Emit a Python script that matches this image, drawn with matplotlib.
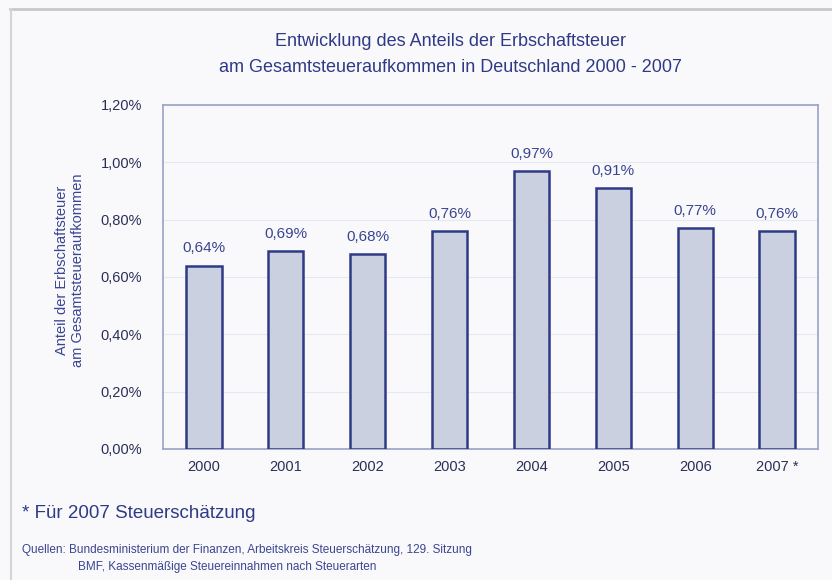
import matplotlib.pyplot as plt
from matplotlib.lines import Line2D

# Daten
jahre = ['2000', '2001', '2002', '2003', '2004', '2005', '2006', '2007 *']
anteile = [0.64, 0.69, 0.68, 0.76, 0.97, 0.91, 0.77, 0.76]
y_ticks = [0.0, 0.2, 0.4, 0.6, 0.8, 1.0, 1.2]

plt.rcParams['font.family'] = ['Liberation Sans', 'DejaVu Sans']

navy = '#2f3a86'
text_farbe = '#3a4590'

fig = plt.figure(figsize=(8.32, 5.8), dpi=100, facecolor='#f9f9fc')
ax = fig.add_axes([163 / 832, 1 - 449 / 580, 655 / 832, 344 / 580])
ax.set_facecolor('#f9f9fc')

x = range(len(jahre))
ax.bar(x, anteile, width=0.43, color='#cbd0e1', edgecolor=navy, linewidth=1.8, zorder=3)
for xi, v in zip(x, anteile):
    ax.text(xi, v + 0.035, f'{v:.2f}%'.replace('.', ','), ha='center', va='bottom',
            fontsize=11, color=text_farbe)

ax.set_xlim(-0.5, len(jahre) - 0.5)
ax.set_ylim(0, 1.2)
ax.set_yticks(y_ticks)
ax.set_yticklabels([f'{t:.2f}%'.replace('.', ',') for t in y_ticks])
ax.set_xticks(list(x))
ax.set_xticklabels(jahre)
ax.tick_params(length=0, labelsize=10.5, colors='#2a2f55', pad=8)
ax.tick_params(axis='y', pad=15)
ax.grid(axis='y', color='#e6e8f0', linewidth=0.8, zorder=0)
for s in ax.spines.values():
    s.set_color('#9aa2c6')
    s.set_linewidth(1.2)

ax.set_ylabel('Anteil der Erbschaftsteuer\nam Gesamtsteueraufkommen', fontsize=10.5,
              color=text_farbe, linespacing=1.15, va='center')
ax.yaxis.set_label_coords(-0.142, 0.52)

fig.text(0.541, 1 - 42 / 580, 'Entwicklung des Anteils der Erbschaftsteuer',
         ha='center', va='center', fontsize=13, color=navy)
fig.text(0.541, 1 - 68 / 580, 'am Gesamtsteueraufkommen in Deutschland 2000 - 2007',
         ha='center', va='center', fontsize=13, color=navy)

fig.text(22 / 832, 1 - 514 / 580, '* Für 2007 Steuerschätzung', ha='left', va='center',
         fontsize=13.5, color=navy)
fig.text(22 / 832, 1 - 550 / 580,
         'Quellen: Bundesministerium der Finanzen, Arbeitskreis Steuerschätzung, 129. Sitzung',
         ha='left', va='center', fontsize=8.5, color=text_farbe)
fig.text(78 / 832, 1 - 567 / 580, 'BMF, Kassenmäßige Steuereinnahmen nach Steuerarten',
         ha='left', va='center', fontsize=8.5, color=text_farbe)

# Rahmen oben und links
fig.add_artist(Line2D([10 / 832, 1], [1 - 9 / 580, 1 - 9 / 580], color='#c8c8cc', linewidth=2))
fig.add_artist(Line2D([11 / 832, 11 / 832], [0, 1 - 9 / 580], color='#d4d4d8', linewidth=1.5))

fig.savefig('out.png', dpi=100, facecolor=fig.get_facecolor())
